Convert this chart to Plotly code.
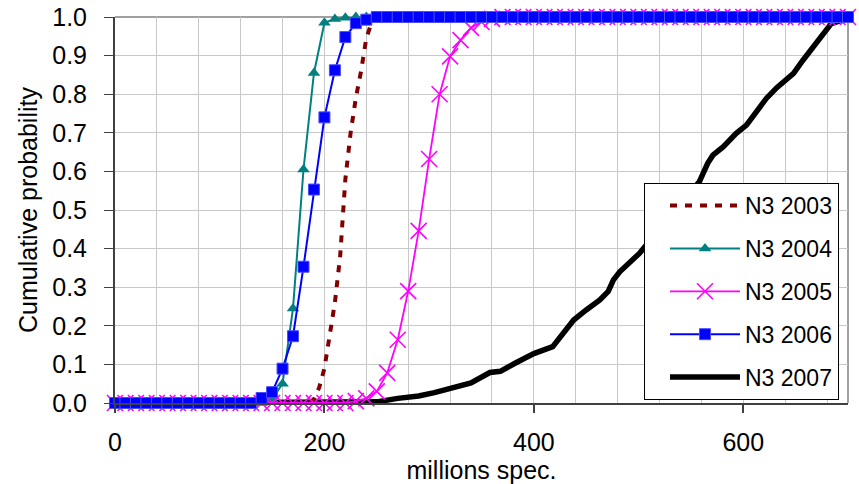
import plotly.graph_objects as go

FONT = "Arial, Liberation Sans, sans-serif"

# ---- data ----
x10 = list(range(0, 710, 10))

# N3 2003 (dashed, no markers)
x_2003 = [0, 185, 190, 195, 200, 205, 210, 215, 220, 225, 230, 235, 240, 245, 250, 700]
y_2003 = [0, 0, 0.01, 0.04, 0.09, 0.17, 0.26, 0.38, 0.58, 0.70, 0.79, 0.86, 0.945, 0.985, 1.0, 1.0]

# N3 2004 (teal triangles) on the 10-step grid
y_2004_head = [0] * 15 + [0.01, 0.05, 0.245, 0.605, 0.855, 0.985, 0.995, 0.998]
y_2004 = y_2004_head + [1.0] * (len(x10) - len(y_2004_head))

# N3 2005 (magenta crosses)
y_2005_head = [0] * 23 + [0.005, 0.012, 0.03, 0.078, 0.164, 0.29, 0.446, 0.632, 0.80,
                          0.898, 0.94, 0.972, 0.987, 0.995]
y_2005 = y_2005_head + [1.0] * (len(x10) - len(y_2005_head))

# N3 2006 (blue squares)
y_2006_head = [0] * 14 + [0.013, 0.028, 0.089, 0.173, 0.353, 0.553, 0.74, 0.862, 0.948,
                          0.984, 0.993]
y_2006 = y_2006_head + [1.0] * (len(x10) - len(y_2006_head))

# N3 2007 (thick black)
x_2007 = [0, 250, 270, 290, 305, 330, 340, 358, 368, 382, 400, 418, 428, 438, 450, 463,
          471, 476, 482, 495, 501, 506, 520, 540, 558, 566, 571, 581, 593, 603, 612, 622,
          632, 641, 648, 657, 667, 676, 684, 692, 700]
y_2007 = [0, 0.003, 0.012, 0.018, 0.027, 0.047, 0.052, 0.079, 0.082, 0.103, 0.128, 0.146,
          0.181, 0.215, 0.241, 0.267, 0.289, 0.319, 0.34, 0.371, 0.388, 0.405, 0.45, 0.51,
          0.573, 0.621, 0.642, 0.664, 0.698, 0.72, 0.754, 0.789, 0.817, 0.84, 0.854, 0.888,
          0.923, 0.957, 0.983, 0.99, 1.0]

x_ticks = [0, 200, 400, 600]

fig = go.Figure()

fig.add_trace(go.Scatter(
    x=x_2007, y=y_2007, mode="lines", name="N3 2007", cliponaxis=False,
    line=dict(color="black", width=5.5), legendrank=5, legendgroup="g5"))
fig.add_trace(go.Scatter(
    x=x_2003, y=y_2003, mode="lines", name="N3 2003", cliponaxis=False,
    line=dict(color="#800000", width=4, dash="7px,8px"), legendrank=1, legendgroup="g1"))
fig.add_trace(go.Scatter(
    x=x10, y=y_2004, mode="lines+markers", name="N3 2004", cliponaxis=False,
    line=dict(color="#008080", width=2),
    marker=dict(symbol="triangle-up", size=11, color="#008080"),
    legendrank=2, legendgroup="g2"))
fig.add_trace(go.Scatter(
    x=x10, y=y_2005, mode="lines+markers", name="N3 2005", cliponaxis=False,
    line=dict(color="#FF00FF", width=1.8),
    marker=dict(symbol="x-thin", size=16, color="#FF00FF",
                line=dict(color="#FF00FF", width=1.6)),
    legendrank=3, legendgroup="g3"))
fig.add_trace(go.Scatter(
    x=x10, y=y_2006, mode="lines+markers", name="N3 2006", cliponaxis=False,
    line=dict(color="#0000FF", width=2),
    marker=dict(symbol="square", size=11, color="#0000FF",
                line=dict(color="#4d4dff", width=1)),
    legendrank=4, legendgroup="g4"))

fig.update_layout(
    width=859, height=484,
    margin=dict(l=115, r=11, t=17, b=81),
    paper_bgcolor="white", plot_bgcolor="white",
    font=dict(family=FONT, size=25, color="black"),
    showlegend=True,
    legend=dict(
        x=(644 - 115) / 733, y=(403.3 - 183) / 386.6,
        xanchor="left", yanchor="top",
        bgcolor="white", bordercolor="black", borderwidth=1,
        font=dict(family=FONT, size=23, color="black"),
        traceorder="grouped", tracegroupgap=10, itemwidth=70, indentation=20,
    ),
    xaxis=dict(
        range=[0, 700], tickvals=x_ticks, ticktext=[str(v) for v in x_ticks],
        ticks="outside", ticklen=8, tickcolor="#404040", tickwidth=1.5,
        showgrid=True, gridcolor="#c8c8c8", gridwidth=1,
        minor=dict(dtick=40, tick0=0, showgrid=True, gridcolor="#c8c8c8", gridwidth=1),
        showline=True, linecolor="#404040", linewidth=2, mirror=False,
        zeroline=False, ticklabelstandoff=8, automargin=False,
        title=dict(text="millions spec.", standoff=9, font=dict(size=25)),
        tickfont=dict(size=25),
    ),
    yaxis=dict(
        range=[0, 1], dtick=0.1, tick0=0, tickformat=".1f",
        ticks="outside", ticklen=9, tickcolor="#404040", tickwidth=1,
        showgrid=True, gridcolor="#c8c8c8", gridwidth=1,
        showline=True, linecolor="#404040", linewidth=2, mirror=False,
        zeroline=False, ticklabelstandoff=12, automargin=False,
        title=dict(text="Cumulative probability", standoff=7, font=dict(size=25)),
        tickfont=dict(size=25),
    ),
)

# thin frame on top and right like the original plot area border
fig.add_shape(type="line", xref="paper", yref="paper", x0=0, x1=1, y0=1, y1=1,
              line=dict(color="#808080", width=1.5), layer="below")
fig.add_shape(type="line", xref="paper", yref="paper", x0=1, x1=1, y0=0, y1=1,
              line=dict(color="#808080", width=1.5), layer="below")

fig.write_html("out.html")
